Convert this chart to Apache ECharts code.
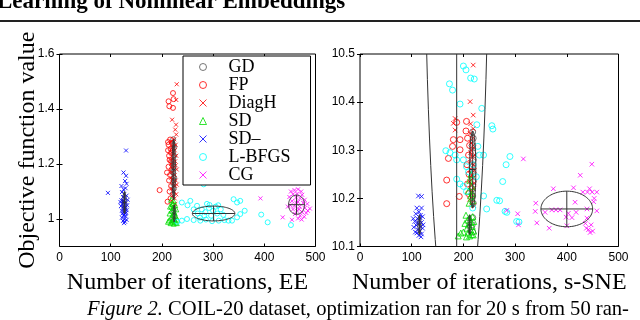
<!DOCTYPE html>
<html>
<head>
<meta charset="utf-8">
<script src="https://cdn.jsdelivr.net/npm/echarts@6/dist/echarts.min.js"></script>
<style>html,body{margin:0;padding:0;background:#fff;}#c{width:640px;height:320px;}</style>
</head>
<body>
<div id="c"></div>
<script>
// ---------- data ----------
const xTicks = [0, 100, 200, 300, 400, 500];
const eeYTicks = [1, 1.2, 1.4, 1.6];
const sneYTicks = [10.1, 10.2, 10.3, 10.4, 10.5];
const methods = ['GD', 'FP', 'DiagH', 'SD', 'SD–', 'L-BFGS', 'CG'];

// EE panel
const eeGD = [[222,1.29],[223,1.27],[221,1.25],[224,1.23],[222,1.21],[223,1.19],[221,1.17],[224,1.15],[222,1.13],[223,1.11],[221,1.09],[224,1.26],[222,1.2],[223,1.14],[222,1.05],[223,1.03],[224,1.01],[222,1.0],[223,0.995]];
const eeFP = [[221.7,1.458],[213,1.428],[222.8,1.436],[214.5,1.41],[221.7,1.404],[195.5,1.105],[211,1.063],[210,1.169],[216,1.289],[219.6,1.277],[213,1.27],[217,1.255],[214,1.23],[218,1.21],[213,1.19],[216,1.16],[214,1.14],[218,1.12],[215,1.1],[212,1.25],[219,1.18],[215,1.215],[217,1.075],[212,1.28],[218,1.24]];
const eeDiagH = [[229,1.49],[228,1.433],[220,1.361],[227.6,1.343],[226,1.325],[228,1.307],[224,1.29],[218,1.28],[227,1.27],[221,1.26],[225,1.25],[219,1.24],[228,1.23],[222,1.22],[226,1.21],[218,1.2],[224,1.19],[229,1.18],[220,1.17],[225,1.16],[218,1.15],[227,1.14],[222,1.13],[226,1.12],[219,1.11],[224,1.1],[228,1.09],[221,1.085],[225,1.075],[220,1.065],[226,1.055],[223,1.045],[219,1.255],[223,1.235],[227,1.195],[221,1.145],[217,1.215],[229,1.125],[223,1.265],[220,1.185]];
const eeSD = [[218,1.07],[223,1.065],[220,1.055],[226,1.05],[216,1.045],[222,1.04],[228,1.035],[219,1.03],[224,1.025],[215,1.02],[221,1.015],[227,1.01],[218,1.005],[224,1.0],[230,0.998],[214,0.995],[220,0.99],[226,0.988],[217,0.985],[223,0.983],[229,0.985],[212,0.99],[221,0.995],[225,1.02],[219,1.045]];
const eeSDm = [[130,1.249],[94.6,1.095],[125,1.169],[130,1.157],[128,1.138],[131,1.128],[121,1.12],[125,1.108],[129,1.112],[119,1.062],[122,1.098],[126,1.09],[131,1.085],[124,1.08],[128,1.075],[133,1.07],[121,1.068],[126,1.065],[130,1.06],[123,1.055],[127,1.052],[132,1.05],[120,1.047],[125,1.045],[129,1.042],[124,1.038],[128,1.035],[131,1.032],[122,1.03],[126,1.027],[130,1.024],[123,1.02],[127,1.017],[125,1.012],[129,1.01],[122,1.005],[127,1.0],[131,0.997],[124,0.993],[128,0.99],[126,0.985],[125,1.058],[127,1.04],[124,1.065],[129,1.02]];
const eeLBFGS = [[281.6,1.126],[239,1.06],[255.5,1.066],[268.6,1.048],[293,1.051],[340,1.072],[346.8,1.06],[353,1.066],[361.7,1.03],[353,1.018],[346.8,1.006],[337,0.994],[394,1.016],[406.6,0.988],[452,0.978],[239,0.994],[249,1.0],[262,0.996],[275,0.994],[286,0.998],[298,0.992],[311,0.994],[322,0.996],[330,0.994],[278,1.035],[285,1.025],[292,1.04],[300,1.03],[308,1.02],[315,1.035],[270,1.02],[296,1.012],[305,1.045],[283,1.012],[262,1.035],[320,1.015],[250,1.05],[288,1.055],[274,1.005],[310,1.05],[230,0.99]];
const eeCG = [[392.5,1.075],[436,1.006],[454,0.997],[452,1.1],[459,1.105],[466,1.108],[472,1.1],[456,1.09],[464,1.092],[474,1.088],[449,1.08],[462,1.078],[470,1.075],[479,1.07],[454,1.065],[466,1.062],[476,1.058],[484,1.055],[451,1.05],[459,1.048],[469,1.045],[479,1.04],[489,1.038],[456,1.035],[464,1.03],[474,1.025],[482,1.022],[460,1.018],[470,1.012],[478,1.008],[466,1.002],[473,0.998],[485,1.03],[446,1.045],[462,1.06],[468,1.035]];
// ellipses: [centre x, centre y, radius x, radius y]
const eeEllipses = [[127,1.06,3,0.04],[223,1.18,3,0.11],[224,1.02,2,0.03],[301,1.02,41.5,0.027],[463,1.052,15.6,0.035]];

// s-SNE panel
const sneGD = [[218,10.338],[219,10.325],[217,10.31],[218,10.295],[219,10.28],[217,10.265],[218,10.25],[219,10.235],[217,10.22],[218,10.205],[219,10.19],[218,10.16],[217,10.145],[218,10.13]];
const sneFP = [[187,10.358],[206,10.36],[180.6,10.322],[193.5,10.322],[208,10.325],[171,10.283],[167.7,10.238],[167.7,10.189],[192,10.204],[193.5,10.301],[179,10.308],[210,10.29],[207,10.27],[211,10.25],[208,10.23],[212,10.31],[205,10.34],[210,10.21]];
const sneDiagH = [[219,10.477],[213,10.401],[219,10.373],[184,10.366],[180.6,10.356],[184,10.342],[214,10.355],[219,10.345],[213,10.335],[218,10.325],[215,10.315],[220,10.305],[214,10.295],[218,10.285],[213,10.275],[217,10.265],[221,10.258],[214,10.25],[218,10.242],[212,10.235],[216,10.228],[220,10.22],[214,10.212],[218,10.205],[212,10.198],[216,10.19],[220,10.185],[215,10.3],[219,10.27],[213,10.26],[217,10.248],[221,10.232],[215,10.218],[219,10.31],[222,10.29]];
const sneSD = [[205,10.165],[212,10.16],[218,10.162],[208,10.155],[215,10.15],[220,10.152],[203,10.148],[210,10.145],[217,10.142],[207,10.138],[214,10.135],[220,10.132],[200,10.13],[209,10.128],[216,10.125],[195,10.128],[212,10.122],[219,10.124],[206,10.12],[190,10.122],[212,10.238],[216,10.225],[210,10.215],[214,10.205],[218,10.195],[211,10.19],[215,10.25],[217,10.21]];
const sneSDm = [[113,10.205],[119,10.204],[110,10.18],[119,10.18],[114,10.172],[108,10.168],[117,10.165],[121,10.162],[111,10.158],[115,10.155],[106,10.152],[119,10.15],[113,10.147],[109,10.144],[117,10.141],[121,10.138],[104,10.14],[112,10.135],[116,10.132],[110,10.128],[119,10.126],[114,10.123],[107,10.13],[118,10.12],[112,10.15],[116,10.16],[122,10.145],[103,10.158]];
const sneLBFGS = [[200,10.475],[205,10.467],[214,10.45],[221,10.448],[173,10.438],[179,10.425],[193.5,10.396],[235.5,10.387],[226,10.353],[255,10.351],[257,10.344],[166,10.299],[174,10.295],[184,10.29],[187,10.28],[228,10.308],[231,10.29],[239,10.29],[290,10.287],[282.6,10.27],[276,10.235],[187,10.24],[193.5,10.23],[200,10.225],[206,10.214],[239,10.205],[218,10.18],[245,10.178],[264.6,10.196],[270,10.195],[280.6,10.173],[284,10.171],[303,10.152],[307.5,10.151],[200,10.28],[206,10.266],[219,10.27],[210,10.255],[225,10.245]];
const sneCG = [[316,10.282],[448.4,10.271],[426,10.248],[374,10.22],[413,10.222],[431,10.213],[440,10.213],[449,10.213],[458,10.213],[416,10.192],[452,10.193],[340,10.19],[339,10.173],[358,10.171],[371,10.176],[379,10.176],[387,10.176],[439,10.178],[458,10.174],[284,10.175],[305,10.168],[306.6,10.145],[342,10.149],[366,10.138],[403,10.169],[398.7,10.161],[410,10.16],[400,10.143],[418,10.171],[439,10.159],[438,10.138],[442,10.135],[445,10.129],[450,10.132],[436,10.148],[447,10.145],[453,10.2],[444,10.22]];
const sneEllipses = [[187,10.85,62,0.99],[400,10.178,50,0.037],[218,10.26,6,0.08],[212,10.145,3,0.02],[115,10.145,3,0.02]];

// ---------- styles ----------
const SERIF = 'Liberation Serif';
const SANS = 'Liberation Sans';
const XPATH = 'path://M0,0L10,10M10,0L0,10';
const style = {
  'GD':     {symbol: 'circle',   color: '#555555'},
  'FP':     {symbol: 'circle',   color: '#ff0000'},
  'DiagH':  {symbol: XPATH,      color: '#ff0000'},
  'SD':     {symbol: 'triangle', color: '#00dd00'},
  'SD–':    {symbol: XPATH,      color: '#0000ff'},
  'L-BFGS': {symbol: 'circle',   color: '#00ffff'},
  'CG':     {symbol: XPATH,      color: '#ff00ff'}
};
const eeData = {'GD': eeGD, 'FP': eeFP, 'DiagH': eeDiagH, 'SD': eeSD, 'SD–': eeSDm, 'L-BFGS': eeLBFGS, 'CG': eeCG};
const sneData = {'GD': sneGD, 'FP': sneFP, 'DiagH': sneDiagH, 'SD': sneSD, 'SD–': sneSDm, 'L-BFGS': sneLBFGS, 'CG': sneCG};

function scatter(name, data, axisIdx, big) {
  const s = style[name];
  const isX = s.symbol === XPATH;
  return {
    type: 'scatter', name: name, data: data,
    xAxisIndex: axisIdx, yAxisIndex: axisIdx,
    symbol: s.symbol,
    symbolSize: isX ? (big ? 4.5 : 4) : (big ? 6 : 5),
    itemStyle: {color: 'transparent', borderColor: s.color, borderWidth: 1},
    emphasis: {disabled: true},
    silent: true
  };
}

function ellipseSeries(data, axisIdx) {
  return {
    type: 'custom', data: data, xAxisIndex: axisIdx, yAxisIndex: axisIdx,
    clip: true, silent: true, z: 5,
    renderItem: function (params, api) {
      const cx = api.value(0), cy = api.value(1), rx = api.value(2), ry = api.value(3);
      const pts = [];
      for (let k = 0; k <= 90; k++) {
        const t = k / 90 * Math.PI * 2;
        pts.push(api.coord([cx + rx * Math.cos(t), cy + ry * Math.sin(t)]));
      }
      const h0 = api.coord([cx - rx, cy]), h1 = api.coord([cx + rx, cy]);
      const v0 = api.coord([cx, cy - ry]), v1 = api.coord([cx, cy + ry]);
      const ls = {stroke: '#333', lineWidth: 1, fill: null};
      const cs = params.coordSys;
      return {
        type: 'group',
        clipPath: {type: 'rect', shape: {x: cs.x, y: cs.y, width: cs.width, height: cs.height}},
        children: [
          {type: 'polyline', shape: {points: pts}, style: ls},
          {type: 'line', shape: {x1: h0[0], y1: h0[1], x2: h1[0], y2: h1[1]}, style: ls},
          {type: 'line', shape: {x1: v0[0], y1: v0[1], x2: v1[0], y2: v1[1]}, style: ls}
        ]
      };
    }
  };
}

const labelStyle = {fontFamily: SANS, fontSize: 12, color: '#000'};
function xAx(grid, pos, name) {
  return {
    type: 'value', gridIndex: grid, position: pos, min: 0, max: 500, interval: 100,
    axisLine: {show: false}, splitLine: {show: false},
    axisTick: {show: true, inside: true, length: 3, lineStyle: {color: '#000'}},
    axisLabel: pos === 'bottom' ? Object.assign({show: true, margin: 5}, labelStyle) : {show: false},
    name: name || '', nameLocation: 'middle', nameGap: 24, nameMoveOverlap: false,
    nameTextStyle: {fontFamily: SERIF, fontSize: 24, color: '#000'}
  };
}
function yAx(grid, pos, min, max, ticks, name) {
  return {
    type: 'value', gridIndex: grid, position: pos, min: min, max: max,
    axisLine: {show: false}, splitLine: {show: false},
    axisTick: {show: true, inside: true, length: 3, customValues: ticks, lineStyle: {color: '#000'}},
    axisLabel: pos === 'left' ? Object.assign({show: true, margin: 5, customValues: ticks}, labelStyle) : {show: false, customValues: ticks},
    name: name || '', nameLocation: 'middle', nameGap: 20, nameRotate: 90, nameMoveOverlap: false,
    nameTextStyle: {fontFamily: SERIF, fontSize: 24, color: '#000'}
  };
}

const series = [];
methods.forEach(m => series.push(scatter(m, eeData[m], 0, false)));
methods.forEach(m => series.push(scatter(m, sneData[m], 2, true)));
series.push(ellipseSeries(eeEllipses, 0));
series.push(ellipseSeries(sneEllipses, 2));

const legendData = methods.map(m => ({
  name: m,
  icon: style[m].symbol,
  itemStyle: {color: 'transparent', borderColor: style[m].color, borderWidth: 1}
}));

const chart = echarts.init(document.getElementById('c'), null, {renderer: 'canvas'});
chart.setOption({
  animation: false,
  backgroundColor: '#fff',
  grid: [
    {left: 59.5, top: 54, width: 256, height: 192.5, show: true, borderColor: '#000', borderWidth: 1, backgroundColor: '#fff'},
    {left: 360, top: 54, width: 258.5, height: 192.5, show: true, borderColor: '#000', borderWidth: 1, backgroundColor: '#fff'}
  ],
  xAxis: [
    xAx(0, 'bottom', 'Number of iterations, EE'), xAx(0, 'top'),
    xAx(1, 'bottom', 'Number of iterations, s-SNE'), xAx(1, 'top')
  ],
  yAxis: [
    yAx(0, 'left', 0.9, 1.6, eeYTicks, 'Objective function value'), yAx(0, 'right', 0.9, 1.6, eeYTicks),
    yAx(1, 'left', 10.1, 10.5, sneYTicks), yAx(1, 'right', 10.1, 10.5, sneYTicks)
  ],
  legend: {
    orient: 'vertical', left: 183, top: 56,
    data: legendData,
    itemWidth: 7, itemHeight: 7, itemGap: 0,
    padding: [2, 20, 1, 16],
    borderColor: '#000', borderWidth: 1, backgroundColor: '#fff',
    textStyle: {fontFamily: SERIF, fontSize: 18, color: '#000', lineHeight: 18, padding: [0, 0, 0, 17]},
    selectedMode: false, z: 10
  },
  graphic: [
    {type: 'text', left: -3, top: -9, style: {text: 'Learning of Nonlinear Embeddings', font: 'bold 23px "Liberation Serif"', fill: '#000'}},
    {type: 'rect', shape: {x: 0, y: 20, width: 640, height: 2}, style: {fill: '#222'}},
    {type: 'text', left: 87, top: 299, style: {
      text: '{i|Figure 2.} COIL-20 dataset, optimization ran for 20 s from 50 ran-',
      font: '20.6px "Liberation Serif"', fill: '#000',
      rich: {i: {fontStyle: 'italic', fontFamily: SERIF, fontSize: 20.6}}
    }}
  ],
  series: series
});
</script>
</body>
</html>
